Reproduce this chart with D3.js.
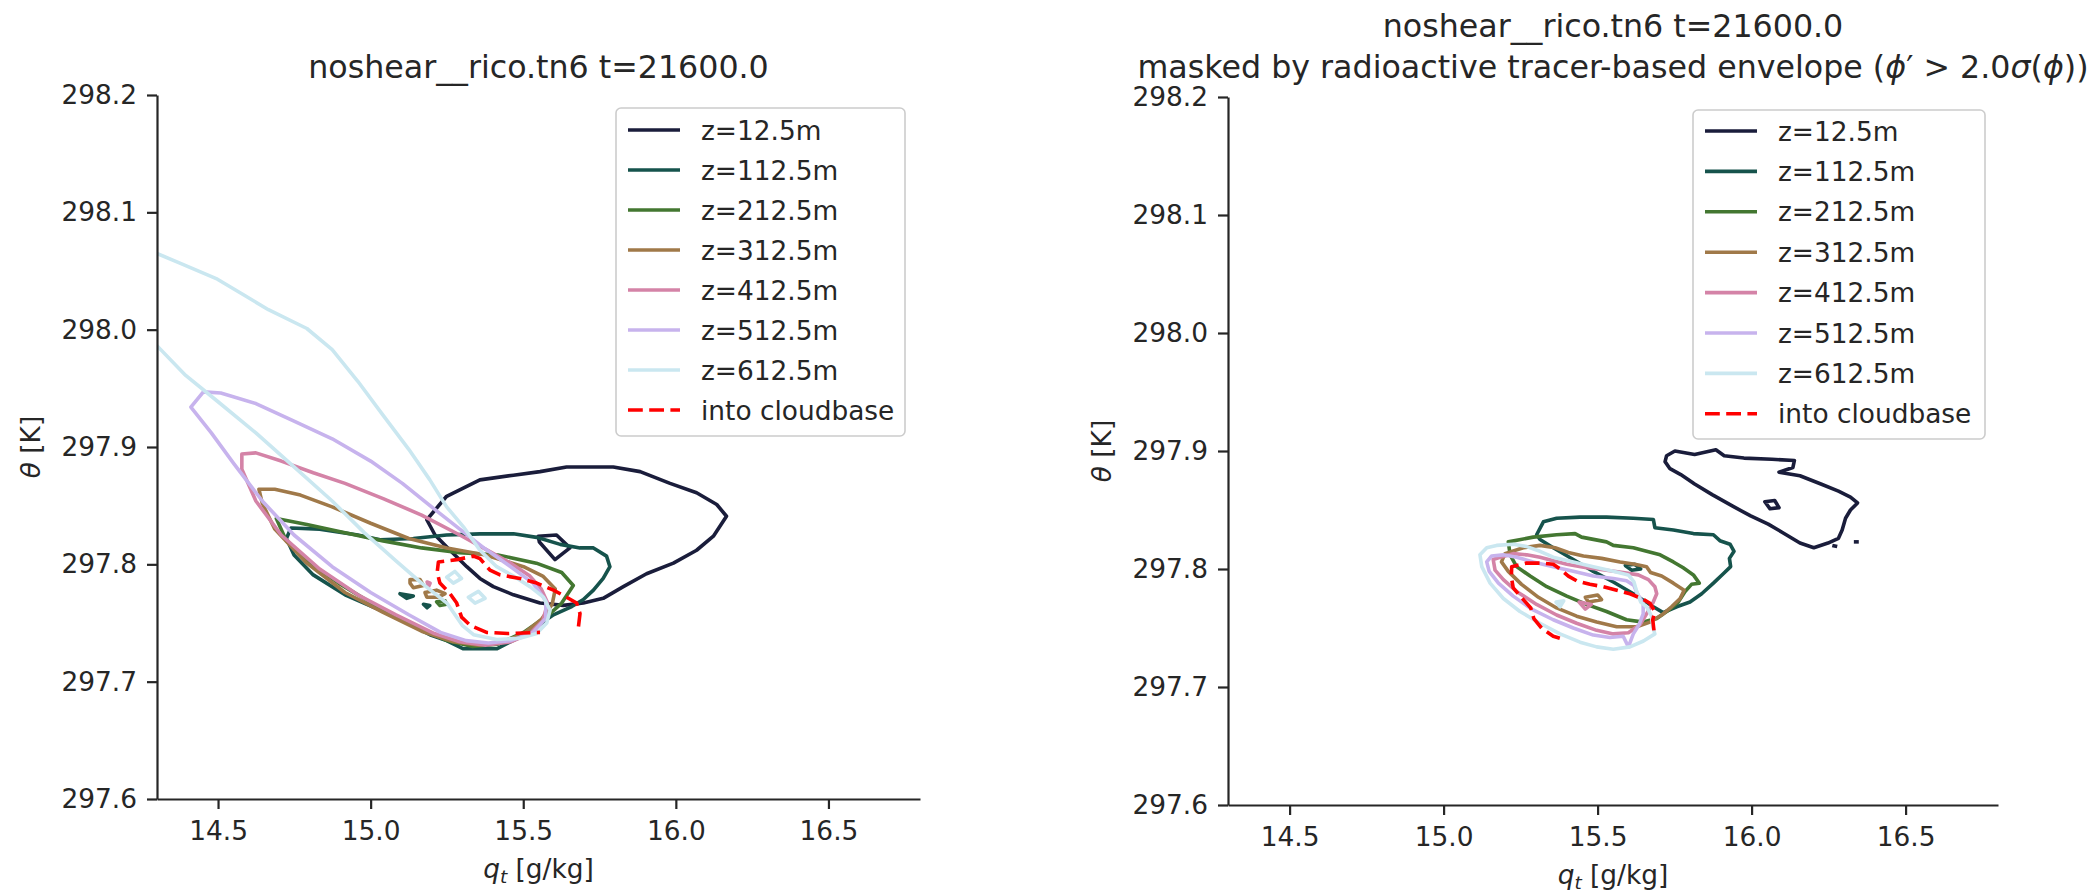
<!DOCTYPE html>
<html>
<head>
<meta charset="utf-8">
<script src="https://cdn.jsdelivr.net/npm/d3@7"></script>
<style>
  body { margin: 0; background: #fff; }
  svg { font-family: "DejaVu Sans", sans-serif; }
</style>
</head>
<body>
<svg width="2099" height="892"></svg>
<script>
(function (d3) {
  "use strict";

  // ---- data ----
  const levelLabels = ["z=12.5m", "z=112.5m", "z=212.5m", "z=312.5m", "z=412.5m", "z=512.5m", "z=612.5m"];
  const levelColors = ["#1a1d3b", "#16534c", "#437731", "#a07949", "#d483a7", "#c7b3ed", "#cae7f0"];
  const cloudbaseLabel = "into cloudbase";
  const cloudbaseColor = "#ff0000";

  const xTicks = [14.5, 15.0, 15.5, 16.0, 16.5];
  const yTicks = [297.6, 297.7, 297.8, 297.9, 298.0, 298.1, 298.2];
  const xDomain = [14.3, 16.8];
  const yDomain = [297.6, 298.2];

  const titleLeft = "noshear__rico.tn6 t=21600.0";

  // left panel: full domain contours
  const leftZ12 = [[15.184,297.838],[15.249,297.858],[15.358,297.872],[15.468,297.876],[15.555,297.879],[15.642,297.883],[15.795,297.883],[15.883,297.879],[15.981,297.869],[16.068,297.861],[16.134,297.851],[16.166,297.841],[16.123,297.824],[16.068,297.812],[15.992,297.801],[15.904,297.792],[15.828,297.781],[15.762,297.771],[15.697,297.767],[15.631,297.765],[15.555,297.767],[15.468,297.774],[15.402,297.781],[15.358,297.788],[15.315,297.798],[15.260,297.812],[15.211,297.825]];
  const leftZ12b = [[15.549,297.824],[15.609,297.825],[15.653,297.814],[15.604,297.804],[15.553,297.819]];
  const leftZ112 = [[14.739,297.831],[14.833,297.830],[14.958,297.825],[15.031,297.821],[15.140,297.822],[15.249,297.825],[15.358,297.826],[15.468,297.826],[15.544,297.823],[15.621,297.817],[15.686,297.814],[15.730,297.814],[15.773,297.807],[15.784,297.798],[15.762,297.788],[15.730,297.778],[15.697,297.770],[15.659,297.764],[15.599,297.757],[15.544,297.747],[15.489,297.738],[15.413,297.728],[15.304,297.728],[15.249,297.735],[15.194,297.740],[15.118,297.750],[15.031,297.761],[14.916,297.774],[14.812,297.791],[14.749,297.808],[14.724,297.822]];
  const leftZ112b = [[15.096,297.775],[15.140,297.773],[15.118,297.771]];
  const leftZ112c = [[15.173,297.766],[15.194,297.765],[15.185,297.763]];
  const leftZ212 = [[14.691,297.839],[14.791,297.834],[14.916,297.827],[15.041,297.820],[15.167,297.814],[15.292,297.810],[15.417,297.808],[15.543,297.801],[15.626,297.793],[15.664,297.782],[15.626,297.767],[15.584,297.757],[15.501,297.742],[15.417,297.732],[15.334,297.730],[15.250,297.735],[15.146,297.747],[15.021,297.764],[14.895,297.784],[14.791,297.803],[14.724,297.820]];
  const leftZ212b = [[15.216,297.768],[15.244,297.769],[15.249,297.766],[15.227,297.765]];
  const leftZ312 = [[14.634,297.864],[14.686,297.864],[14.770,297.859],[14.874,297.849],[15.000,297.835],[15.125,297.822],[15.250,297.814],[15.376,297.808],[15.501,297.798],[15.564,297.790],[15.605,297.779],[15.595,297.766],[15.559,297.753],[15.501,297.741],[15.438,297.734],[15.355,297.731],[15.271,297.734],[15.167,297.743],[15.041,297.759],[14.916,297.776],[14.791,297.801],[14.686,297.830],[14.645,297.852]];
  const leftZ312b = [[15.129,297.787],[15.162,297.787],[15.173,297.782],[15.140,297.780],[15.129,297.784]];
  const leftZ312c = [[15.178,297.776],[15.216,297.778],[15.244,297.775],[15.222,297.772],[15.184,297.772]];
  const leftZ412 = [[14.578,297.894],[14.624,297.895],[14.707,297.888],[14.812,297.878],[14.916,297.869],[15.041,297.856],[15.167,297.842],[15.292,297.825],[15.376,297.813],[15.459,297.801],[15.522,297.790],[15.559,297.779],[15.580,297.767],[15.564,297.752],[15.522,297.741],[15.459,297.734],[15.376,297.731],[15.292,297.734],[15.209,297.741],[15.083,297.757],[14.958,297.774],[14.833,297.796],[14.707,297.825],[14.624,297.854],[14.578,297.881]];
  const leftZ412b = [[15.185,297.785],[15.195,297.784],[15.190,297.781]];
  const leftZ512 = [[14.411,297.934],[14.452,297.947],[14.509,297.946],[14.624,297.937],[14.749,297.922],[14.874,297.907],[15.000,297.888],[15.104,297.869],[15.209,297.847],[15.292,297.830],[15.376,297.813],[15.459,297.798],[15.532,297.784],[15.574,297.769],[15.574,297.754],[15.532,297.742],[15.459,297.735],[15.386,297.733],[15.313,297.735],[15.229,297.742],[15.125,297.757],[15.000,297.776],[14.874,297.798],[14.749,297.825],[14.645,297.854],[14.551,297.886],[14.478,297.912]];
  const leftZ612 = [[14.290,298.066],[14.373,298.057],[14.498,298.043],[14.582,298.030],[14.665,298.017],[14.791,298.001],[14.874,297.983],[14.958,297.956],[15.041,297.927],[15.125,297.898],[15.194,297.872],[15.249,297.849],[15.304,297.832],[15.358,297.812],[15.413,297.798],[15.468,297.790],[15.522,297.781],[15.566,297.772],[15.588,297.761],[15.577,297.750],[15.544,297.741],[15.489,297.737],[15.413,297.736],[15.337,297.740],[15.300,297.748],[15.250,297.767],[15.167,297.784],[15.083,297.803],[14.979,297.827],[14.874,297.854],[14.749,297.883],[14.624,297.912],[14.498,297.939],[14.394,297.961],[14.290,297.989]];
  const leftZ612b = [[15.249,297.789],[15.276,297.794],[15.298,297.788],[15.271,297.784]];
  const leftZ612c = [[15.320,297.772],[15.353,297.777],[15.375,297.771],[15.342,297.767]];
  const leftCloudbase = [[15.681,297.747],[15.686,297.758],[15.675,297.767],[15.642,297.772],[15.599,297.778],[15.544,297.784],[15.489,297.788],[15.424,297.791],[15.391,297.795],[15.358,297.805],[15.337,297.807],[15.282,297.804],[15.222,297.802],[15.218,297.793],[15.227,297.784],[15.260,297.775],[15.282,297.767],[15.298,297.755],[15.326,297.748],[15.380,297.742],[15.450,297.741],[15.555,297.742]];

  // right panel: masked by tracer envelope
  const rightZ12 = [[15.724,297.896],[15.751,297.900],[15.815,297.897],[15.884,297.901],[15.911,297.896],[15.975,297.894],[16.066,297.893],[16.139,297.892],[16.134,297.886],[16.089,297.882],[16.157,297.879],[16.225,297.872],[16.282,297.866],[16.321,297.861],[16.344,297.856],[16.321,297.850],[16.305,297.843],[16.294,297.833],[16.282,297.826],[16.248,297.822],[16.202,297.818],[16.157,297.822],[16.100,297.831],[16.054,297.838],[15.997,297.845],[15.940,297.853],[15.872,297.863],[15.815,297.872],[15.770,297.880],[15.735,297.885],[15.719,297.891]];
  const rightZ12b = [[16.043,297.857],[16.075,297.858],[16.089,297.852],[16.060,297.851]];
  const rightZ12c = [[16.262,297.820],[16.278,297.819]];
  const rightZ12d = [[16.332,297.823],[16.348,297.823]];
  const rightZ112 = [[15.302,297.829],[15.324,297.840],[15.367,297.843],[15.443,297.844],[15.529,297.844],[15.616,297.843],[15.681,297.842],[15.686,297.835],[15.746,297.833],[15.811,297.830],[15.876,297.829],[15.897,297.824],[15.930,297.821],[15.943,297.815],[15.928,297.809],[15.932,297.802],[15.908,297.796],[15.876,297.788],[15.838,297.779],[15.800,297.772],[15.757,297.768],[15.713,297.763],[15.681,297.768],[15.616,297.779],[15.551,297.789],[15.486,297.798],[15.421,297.808],[15.356,297.818],[15.313,297.825]];
  const rightZ112b = [[15.590,297.803],[15.620,297.804],[15.640,297.800],[15.610,297.799]];
  const rightZ212 = [[15.210,297.823],[15.291,297.827],[15.367,297.829],[15.427,297.830],[15.448,297.827],[15.529,297.823],[15.551,297.820],[15.616,297.818],[15.659,297.815],[15.703,297.812],[15.746,297.806],[15.778,297.801],[15.811,297.795],[15.830,297.788],[15.805,297.787],[15.784,297.781],[15.762,297.772],[15.730,297.765],[15.692,297.758],[15.648,297.755],[15.594,297.757],[15.529,297.764],[15.464,297.770],[15.400,297.777],[15.335,297.785],[15.281,297.794],[15.237,297.802],[15.216,297.812]];
  const rightZ312 = [[15.199,297.813],[15.259,297.818],[15.313,297.820],[15.362,297.818],[15.405,297.814],[15.454,297.811],[15.513,297.809],[15.573,297.806],[15.621,297.804],[15.659,297.802],[15.672,297.797],[15.708,297.794],[15.746,297.788],[15.781,297.782],[15.768,297.775],[15.740,297.768],[15.708,297.761],[15.670,297.755],[15.627,297.751],[15.562,297.751],[15.497,297.755],[15.432,297.760],[15.367,297.767],[15.308,297.776],[15.253,297.787],[15.210,297.798],[15.188,297.806]];
  const rightZ312b = [[15.460,297.776],[15.500,297.778],[15.513,297.774],[15.470,297.772]];
  const rightZ412 = [[15.161,297.808],[15.183,297.810],[15.226,297.813],[15.270,297.812],[15.313,297.810],[15.356,297.807],[15.400,297.804],[15.464,297.801],[15.529,297.799],[15.583,297.797],[15.632,297.795],[15.665,297.791],[15.686,297.785],[15.692,297.779],[15.679,297.771],[15.659,297.762],[15.638,297.753],[15.600,297.746],[15.551,297.745],[15.497,297.748],[15.432,297.754],[15.367,297.761],[15.302,297.770],[15.237,297.781],[15.194,297.791],[15.167,297.799]];
  const rightZ412b = [[15.440,297.772],[15.480,297.770],[15.460,297.766]];
  const rightZ512 = [[15.140,297.806],[15.156,297.811],[15.194,297.812],[15.237,297.810],[15.291,297.806],[15.356,297.802],[15.421,297.798],[15.486,297.794],[15.551,297.792],[15.594,297.790],[15.618,297.786],[15.629,297.779],[15.648,297.771],[15.648,297.762],[15.635,297.753],[15.616,297.745],[15.600,297.734],[15.583,297.743],[15.540,297.742],[15.486,297.744],[15.421,297.750],[15.356,297.757],[15.286,297.766],[15.226,297.777],[15.178,297.788],[15.148,297.798]];
  const rightZ612 = [[15.118,297.812],[15.140,297.818],[15.172,297.820],[15.226,297.821],[15.270,297.819],[15.313,297.815],[15.356,297.810],[15.421,297.806],[15.486,297.802],[15.551,297.798],[15.600,297.795],[15.618,297.789],[15.627,297.781],[15.640,297.772],[15.659,297.768],[15.675,297.760],[15.679,297.751],[15.686,297.745],[15.649,297.739],[15.605,297.734],[15.551,297.732],[15.497,297.734],[15.443,297.738],[15.378,297.745],[15.313,297.754],[15.248,297.764],[15.194,297.775],[15.151,297.788],[15.124,297.802]];
  const rightZ612b = [[15.365,297.772],[15.390,297.773],[15.378,297.768]];
  const rightCloudbase = [[15.683,297.748],[15.679,297.757],[15.686,297.764],[15.670,297.771],[15.643,297.775],[15.605,297.779],[15.562,297.782],[15.519,297.785],[15.475,297.787],[15.432,297.790],[15.405,297.794],[15.378,297.800],[15.356,297.804],[15.318,297.805],[15.270,297.805],[15.221,297.802],[15.220,297.793],[15.226,297.784],[15.259,297.774],[15.283,297.767],[15.293,297.758],[15.318,297.750],[15.356,297.743],[15.394,297.740]];

  // contour sets: level index (7 = cloudbase), points, closed?
  const leftContours = [
    [0, leftZ12, true], [0, leftZ12b, true],
    [1, leftZ112, true], [1, leftZ112b, true], [1, leftZ112c, true],
    [2, leftZ212, true], [2, leftZ212b, true],
    [3, leftZ312, true], [3, leftZ312b, true], [3, leftZ312c, true],
    [4, leftZ412, true], [4, leftZ412b, true],
    [5, leftZ512, true],
    [6, leftZ612, false], [6, leftZ612b, true], [6, leftZ612c, true],
    [7, leftCloudbase, false]
  ];
  const rightContours = [
    [0, rightZ12, true], [0, rightZ12b, true], [0, rightZ12c, false], [0, rightZ12d, false],
    [1, rightZ112, true], [1, rightZ112b, true],
    [2, rightZ212, true],
    [3, rightZ312, true], [3, rightZ312b, true],
    [4, rightZ412, true], [4, rightZ412b, true],
    [5, rightZ512, true],
    [6, rightZ612, true], [6, rightZ612b, true],
    [7, rightCloudbase, false]
  ];

  // ---- drawing ----
  const svg = d3.select("svg");
  const ink = "#262626";
  const fs = 26.4;
  const titleFs = 31.7;

  const allColors = levelColors.concat([cloudbaseColor]);
  const allLabels = levelLabels.concat([cloudbaseLabel]);

  const panels = [
    { id: "left", x0: 157, x1: 920, y0: 95, y1: 799, contours: leftContours,
      legend: { x: 616, y: 108, w: 289, h: 328, rowY: 22, row: 40 } },
    { id: "right", x0: 1228, x1: 1998, y0: 97, y1: 805, contours: rightContours,
      legend: { x: 1693, y: 110, w: 292, h: 329, rowY: 21, row: 40.4 } }
  ];

  panels.forEach((p) => {
    const x = d3.scaleLinear().domain(xDomain).range([p.x0, p.x1]);
    const y = d3.scaleLinear().domain(yDomain).range([p.y1, p.y0]);

    svg.append("clipPath").attr("id", "clip-" + p.id)
      .append("rect")
      .attr("x", p.x0).attr("y", p.y0)
      .attr("width", p.x1 - p.x0).attr("height", p.y1 - p.y0);

    const line = d3.line().x((d) => x(d[0])).y((d) => y(d[1]));

    const g = svg.append("g").attr("clip-path", `url(#clip-${p.id})`);
    p.contours.forEach(([lev, pts, closed]) => {
      g.append("path")
        .attr("d", line(pts) + (closed ? "Z" : ""))
        .attr("fill", "none")
        .attr("stroke", allColors[lev])
        .attr("stroke-width", 3.6)
        .attr("stroke-linejoin", "round")
        .attr("stroke-dasharray", lev === 7 ? "14.8,6.4" : null);
    });

    // axes
    const xAxis = d3.axisBottom(x).tickValues(xTicks).tickFormat(d3.format(".1f"))
      .tickSizeInner(10).tickSizeOuter(0).tickPadding(12);
    const yAxis = d3.axisLeft(y).tickValues(yTicks).tickFormat(d3.format(".1f"))
      .tickSizeInner(10).tickSizeOuter(0).tickPadding(10);

    const xG = svg.append("g").attr("transform", `translate(0,${p.y1})`).call(xAxis);
    const yG = svg.append("g").attr("transform", `translate(${p.x0},0)`).call(yAxis);
    [xG, yG].forEach((a) => {
      a.select(".domain").attr("stroke", ink).attr("stroke-width", 2.2);
      a.selectAll(".tick line").attr("stroke", ink).attr("stroke-width", 2.2);
      a.selectAll(".tick text").attr("fill", ink).attr("font-size", fs)
        .attr("font-family", "DejaVu Sans");
    });

    // axis labels
    const cx = (p.x0 + p.x1) / 2;
    const xl = svg.append("text").attr("x", cx).attr("y", p.y1 + 79)
      .attr("text-anchor", "middle").attr("fill", ink).attr("font-size", fs);
    xl.append("tspan").attr("font-style", "italic").text("q");
    xl.append("tspan").attr("font-style", "italic").attr("font-size", fs * 0.7).attr("dy", 5).text("t");
    xl.append("tspan").attr("dy", -5).text(" [g/kg]");

    const cy = (p.y0 + p.y1) / 2;
    const yl = svg.append("text")
      .attr("transform", `translate(${p.x0 - 117},${cy}) rotate(-90)`)
      .attr("text-anchor", "middle").attr("fill", ink).attr("font-size", fs);
    yl.append("tspan").attr("font-style", "italic").text("θ");
    yl.append("tspan").text(" [K]");

    // legend
    const L = p.legend;
    const lg = svg.append("g");
    lg.append("rect").attr("x", L.x).attr("y", L.y).attr("width", L.w).attr("height", L.h)
      .attr("rx", 5).attr("fill", "#fff").attr("fill-opacity", 0.8)
      .attr("stroke", "#cccccc").attr("stroke-width", 1.6);
    allLabels.forEach((lab, i) => {
      const ry = L.y + L.rowY + i * L.row;
      lg.append("line")
        .attr("x1", L.x + 12).attr("x2", L.x + 64).attr("y1", ry).attr("y2", ry)
        .attr("stroke", allColors[i]).attr("stroke-width", 3.6)
        .attr("stroke-dasharray", i === 7 ? "14.8,6.4" : null);
      lg.append("text").attr("x", L.x + 85).attr("y", ry + 9.5)
        .attr("fill", ink).attr("font-size", fs).text(lab);
    });
  });

  // titles
  const lp = panels[0], rp = panels[1];
  svg.append("text").attr("x", (lp.x0 + lp.x1) / 2).attr("y", lp.y0 - 17)
    .attr("text-anchor", "middle").attr("fill", ink).attr("font-size", titleFs)
    .text(titleLeft);

  const rcx = (rp.x0 + rp.x1) / 2;
  svg.append("text").attr("x", rcx).attr("y", rp.y0 - 60)
    .attr("text-anchor", "middle").attr("fill", ink).attr("font-size", titleFs)
    .text(titleLeft);
  const t2 = svg.append("text").attr("x", rcx).attr("y", rp.y0 - 19)
    .attr("text-anchor", "middle").attr("fill", ink).attr("font-size", titleFs);
  t2.append("tspan").text("masked by radioactive tracer-based envelope (");
  t2.append("tspan").attr("font-style", "italic").text("ϕ");
  t2.append("tspan").text("′ > 2.0");
  t2.append("tspan").attr("font-style", "italic").text("σ");
  t2.append("tspan").text("(");
  t2.append("tspan").attr("font-style", "italic").text("ϕ");
  t2.append("tspan").text("))");
})(d3);
</script>
</body>
</html>
